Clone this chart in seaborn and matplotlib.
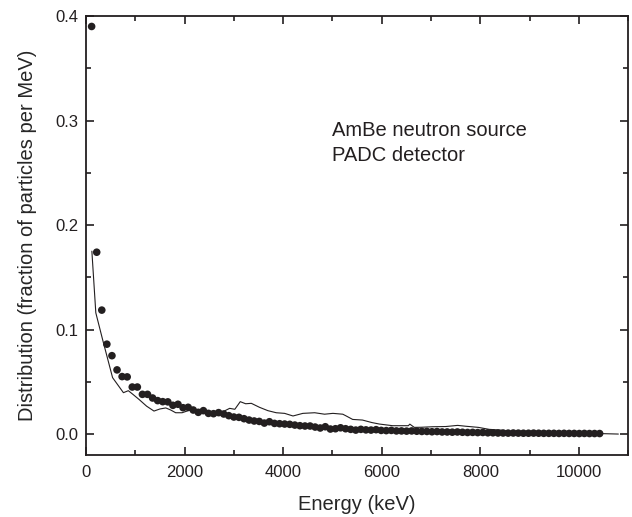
import numpy as np
import pandas as pd
import matplotlib.pyplot as plt
from matplotlib.ticker import MultipleLocator
import seaborn as sns

# measured spectrum (dots): bin centres in keV and distribution values
dot_energy = np.linspace(115, 10420, 101)
dot_value = [
    0.390, 0.174, 0.1186, 0.086, 0.075, 0.0614, 0.055, 0.0547, 0.045, 0.045,
    0.038, 0.038, 0.0345, 0.032, 0.031, 0.0308, 0.0275, 0.0285, 0.0252, 0.0256,
    0.023, 0.0208, 0.0224, 0.0198, 0.0195, 0.0205, 0.0192, 0.0176, 0.0163, 0.016,
    0.0147, 0.0134, 0.0125, 0.0121, 0.0105, 0.0118, 0.0102, 0.0099, 0.0096, 0.0093,
    0.0086, 0.008, 0.0077, 0.0077, 0.0067, 0.0058, 0.007, 0.0048, 0.0051, 0.006,
    0.0051, 0.0045, 0.0038, 0.0045, 0.004, 0.0038, 0.0042, 0.0035, 0.0033, 0.0035,
    0.003, 0.003, 0.0028, 0.003, 0.0027, 0.0025, 0.0025, 0.0022, 0.0024, 0.002,
    0.002, 0.0018, 0.002, 0.0017, 0.0015, 0.0016, 0.0014, 0.0015, 0.0012, 0.0012,
    0.001, 0.001, 0.0009, 0.001, 0.0009, 0.0008, 0.0008, 0.0009, 0.0008, 0.0007,
    0.0007, 0.0007, 0.0006, 0.0007, 0.0006, 0.0006, 0.0005, 0.0006, 0.0005, 0.0005,
    0.0005,
]

# reference AmBe spectrum (thin line)
line_energy = [
    120, 200, 340, 540, 760, 860, 960, 1080, 1230, 1380, 1500, 1620, 1720, 1820,
    1950, 2050, 2170, 2350, 2520, 2780, 2915, 3020, 3130, 3240, 3355, 3520, 3690,
    3860, 4030, 4200, 4400, 4640, 4840, 5010, 5210, 5280, 5410, 5610, 5800, 5950,
    6220, 6540, 6570, 6660, 6800, 7030, 7300, 7540, 7700, 7960, 8180, 8410, 8600,
    9000, 9500, 10000, 10400, 10800,
]
line_value = [
    0.175, 0.116, 0.090, 0.054, 0.0396, 0.0415, 0.0377, 0.033, 0.0267, 0.022,
    0.024, 0.025, 0.023, 0.0204, 0.0204, 0.022, 0.0237, 0.0225, 0.0208, 0.0214,
    0.0246, 0.0237, 0.031, 0.029, 0.0294, 0.0256, 0.0224, 0.0204, 0.0198, 0.0173,
    0.0198, 0.0204, 0.019, 0.0198, 0.019, 0.0173, 0.014, 0.0134, 0.011, 0.0096,
    0.008, 0.008, 0.0095, 0.0064, 0.0065, 0.007, 0.0072, 0.0083, 0.0075, 0.0064,
    0.0045, 0.0038, 0.002, 0.0015, 0.001, 0.0007, 0.0005, 0.0,
]

dots = pd.DataFrame({'energy': dot_energy, 'value': dot_value})
ref = pd.DataFrame({'energy': line_energy, 'value': line_value})

sns.set_style('ticks')
plt.rcParams['font.family'] = ['Liberation Sans', 'DejaVu Sans']

fig = plt.figure(figsize=(6.32, 5.17), dpi=100)
ax = fig.add_axes([0.136, 0.12, 0.858, 0.849])

sns.lineplot(data=ref, x='energy', y='value', color='#231f20', linewidth=0.8, ax=ax)
sns.scatterplot(data=dots, x='energy', y='value', color='#231f20', s=30,
                edgecolor='none', ax=ax, zorder=3)

ax.set_xlim(0, 11000)
ax.set_ylim(-0.02, 0.4)
ax.xaxis.set_major_locator(MultipleLocator(2000))
ax.xaxis.set_minor_locator(MultipleLocator(1000))
ax.yaxis.set_major_locator(MultipleLocator(0.1))
ax.yaxis.set_minor_locator(MultipleLocator(0.05))
ax.tick_params(which='both', direction='in', top=True, right=True,
               width=1.2, colors='#231f20', labelsize=12)
ax.tick_params(which='major', length=6)
ax.tick_params(which='minor', length=3.5)
ax.tick_params(axis='x', which='major', pad=7)
ax.tick_params(axis='y', which='major', pad=5.5)
for sp in ax.spines.values():
    sp.set_linewidth(1.3)
    sp.set_color('#231f20')

ax.set_xlabel('Energy (keV)', fontsize=14.5, labelpad=11)
ax.set_ylabel('Distribution (fraction of particles per MeV)', fontsize=14.5, labelpad=13)

ax.text(5000, 0.3, 'AmBe neutron source\nPADC detector', fontsize=14.5,
        va='top', ha='left', linespacing=1.4, color='#231f20')

fig.savefig('out.png', dpi=100)
